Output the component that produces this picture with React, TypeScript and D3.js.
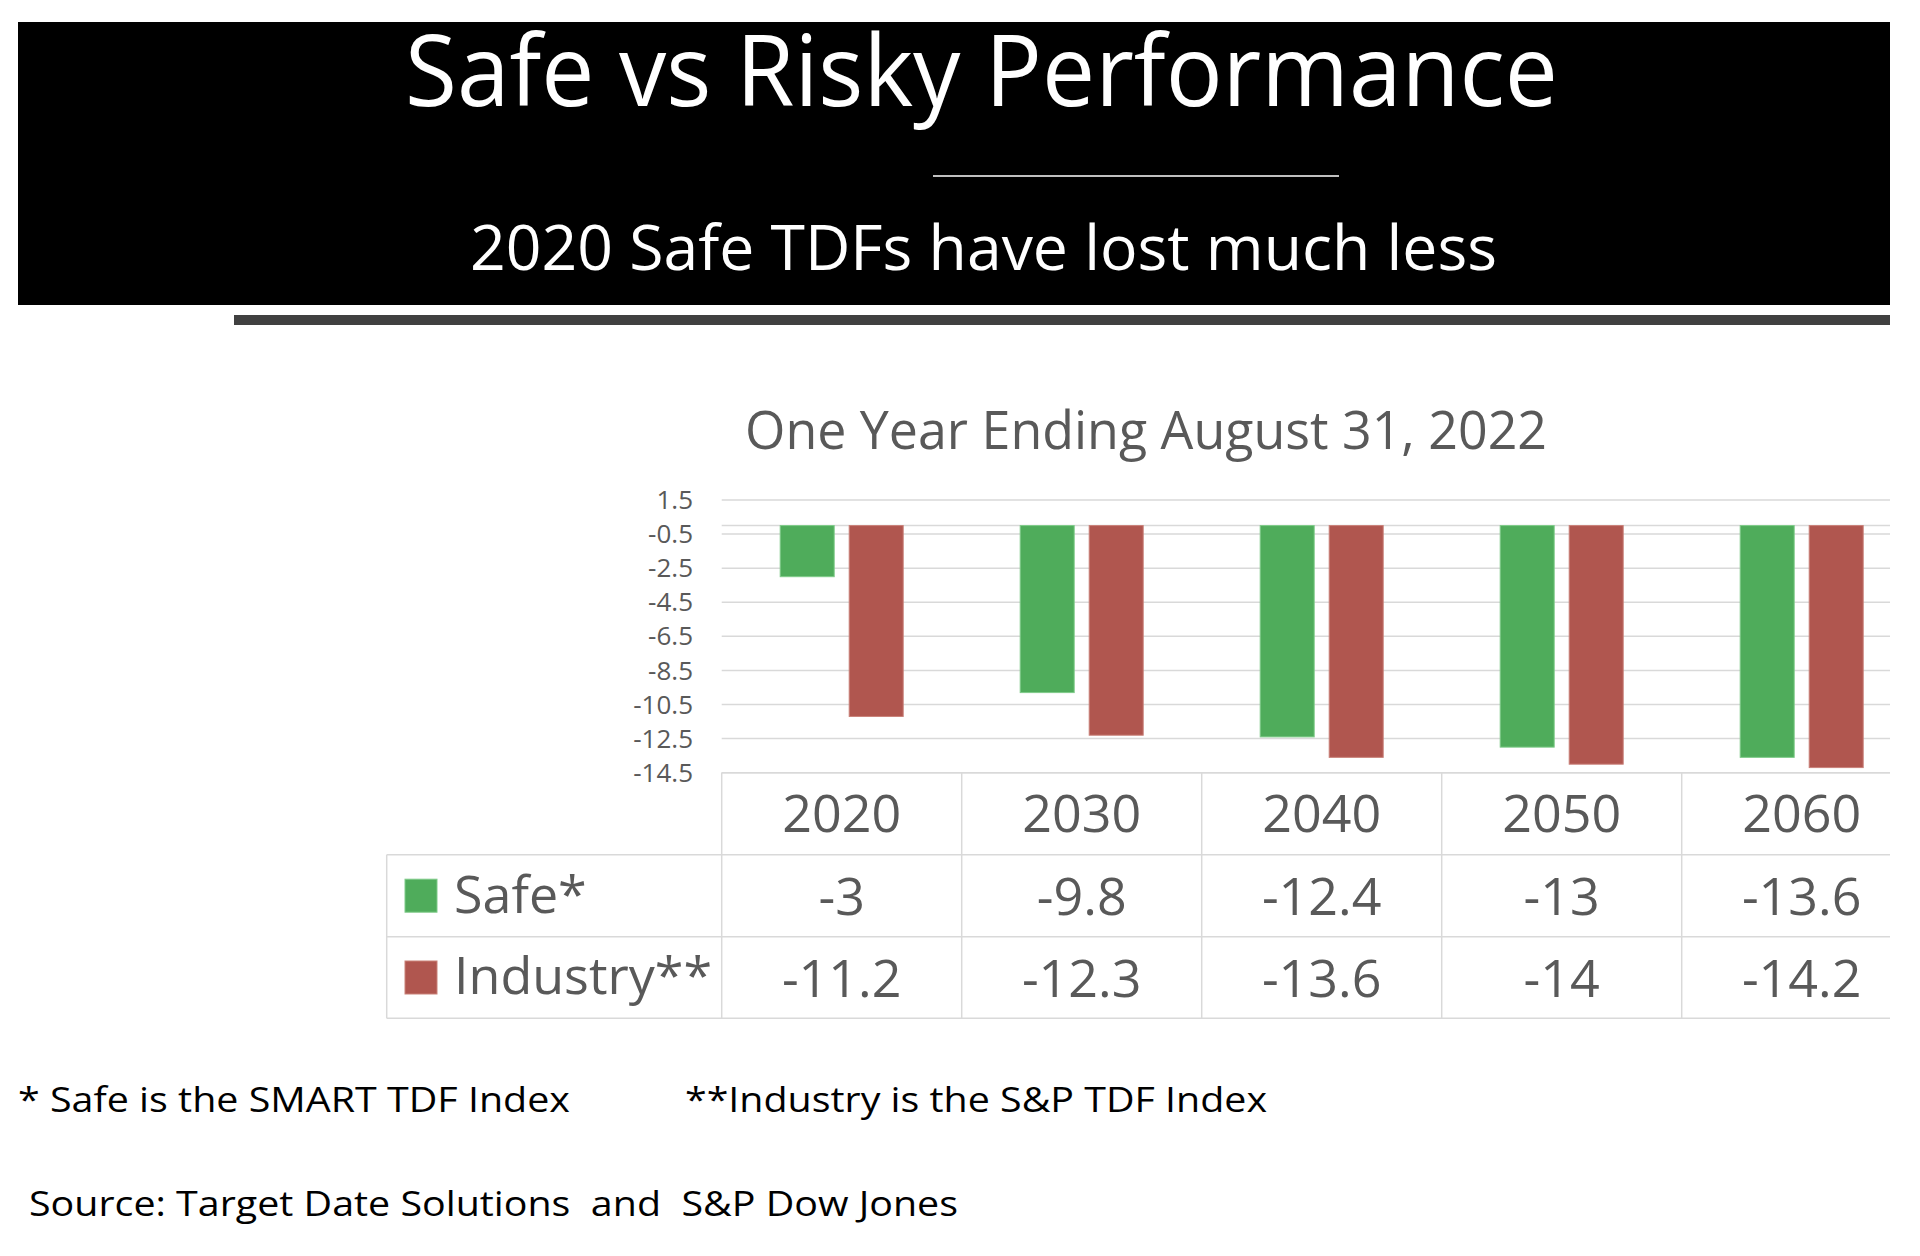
import React from "react";
import * as d3 from "d3";

const categories = ["2020", "2030", "2040", "2050", "2060"];
const seriesNames = ["Safe*", "Industry**"];
const safeValues = [-3, -9.8, -12.4, -13, -13.6];
const industryValues = [-11.2, -12.3, -13.6, -14, -14.2];
const yTicks = [1.5, -0.5, -2.5, -4.5, -6.5, -8.5, -10.5, -12.5, -14.5];
const seriesColors = ["#4FAC5B", "#B0564F"];
const seriesStrokes = ["#7FCB89", "#C98179"];

const titleText = "Safe vs Risky Performance";
const subtitleText = "2020 Safe TDFs have lost much less";
const chartTitle = "One Year Ending August 31, 2022";
const note1 = "* Safe is the SMART TDF Index";
const note2 = "**Industry is the S&P TDF Index";
const sourceText = "Source: Target Date Solutions  and  S&P Dow Jones";

const FONT = "'Open Sans', 'DejaVu Sans', sans-serif";

export default function App() {
  const W = 1920;
  const H = 1256;
  const plotLeft = 721.7;
  const catW = 240;
  const clipRight = 1890;
  const yTop = 500;
  const yBottom = 772.7;

  const x0 = d3
    .scaleBand<string>()
    .domain(categories)
    .range([plotLeft, plotLeft + catW * categories.length])
    .paddingInner(0)
    .paddingOuter(0);
  const x1 = d3
    .scaleBand<string>()
    .domain(seriesNames)
    .range([58.5, 181.5])
    .paddingInner(0.2174)
    .paddingOuter(0);
  const y = d3
    .scaleLinear()
    .domain([yTicks[yTicks.length - 1], yTicks[0]])
    .range([yBottom, yTop]);

  const seriesValues = [safeValues, industryValues];

  const rowHeader = [772.7, 854.7];
  const rowSafe = [854.7, 936.7];
  const rowInd = [936.7, 1018.3];
  const rows = [rowSafe, rowInd];
  const legendLeft = 386.7;
  const gridColor = "#D9D9D9";
  const textGray = "#595959";

  return (
    <svg
      width={W}
      height={H}
      viewBox={`0 0 ${W} ${H}`}
      style={{ position: "absolute", left: 0, top: 0, background: "#fff" }}
      fontFamily={FONT}
    >
      <defs>
        <clipPath id="plotClip">
          <rect x={0} y={0} width={clipRight} height={H} />
        </clipPath>
      </defs>
      <rect x={0} y={0} width={W} height={H} fill="#fff" />

      {/* header */}
      <rect x={18} y={22} width={1890 - 18} height={305 - 22} fill="#000" />
      <text
        x={405}
        y={106}
        fill="#fff"
        fontSize={99}
        textLength={1153}
        lengthAdjust="spacingAndGlyphs"
      >
        {titleText}
      </text>
      <line x1={933} x2={1339} y1={176} y2={176} stroke="#BFBFBF" strokeWidth={2} />
      <text
        x={470}
        y={270}
        fill="#fff"
        fontSize={62}
        textLength={1027}
        lengthAdjust="spacingAndGlyphs"
      >
        {subtitleText}
      </text>
      <rect x={234} y={315} width={1890 - 234} height={10} fill="#404040" />

      {/* chart title */}
      <text
        x={745}
        y={449}
        fill={textGray}
        fontSize={53}
        textLength={802}
        lengthAdjust="spacingAndGlyphs"
      >
        {chartTitle}
      </text>

      <g clipPath="url(#plotClip)">
        {/* gridlines */}
        {yTicks.map((t) => (
          <line
            key={"g" + t}
            x1={plotLeft}
            x2={clipRight}
            y1={y(t)}
            y2={y(t)}
            stroke={gridColor}
            strokeWidth={1.5}
          />
        ))}
        {/* zero axis line */}
        <line x1={plotLeft} x2={clipRight} y1={y(0)} y2={y(0)} stroke={gridColor} strokeWidth={1.5} />

        {/* bars */}
        {categories.map((c, i) => (
          <g key={c} transform={`translate(${x0(c)},0)`}>
            {seriesNames.map((s, si) => {
              const v = seriesValues[si][i];
              const y0 = y(0);
              const y1 = y(v);
              return (
                <rect
                  key={s}
                  x={x1(s)}
                  y={Math.min(y0, y1)}
                  width={x1.bandwidth()}
                  height={Math.abs(y1 - y0)}
                  fill={seriesColors[si]}
                  stroke={seriesStrokes[si]}
                  strokeWidth={1}
                />
              );
            })}
          </g>
        ))}

        {/* table horizontal lines */}
        <line x1={plotLeft} x2={clipRight} y1={rowHeader[0]} y2={rowHeader[0]} stroke={gridColor} strokeWidth={1.5} />
        {[rowSafe[0], rowInd[0], rowInd[1]].map((yy) => (
          <line key={"h" + yy} x1={legendLeft} x2={clipRight} y1={yy} y2={yy} stroke={gridColor} strokeWidth={1.5} />
        ))}
        {/* table vertical lines */}
        <line x1={legendLeft} x2={legendLeft} y1={rowSafe[0]} y2={rowInd[1]} stroke={gridColor} strokeWidth={1.5} />
        {categories.map((c) => (
          <line
            key={"v" + c}
            x1={x0(c)}
            x2={x0(c)}
            y1={rowHeader[0]}
            y2={rowInd[1]}
            stroke={gridColor}
            strokeWidth={1.5}
          />
        ))}

        {/* header labels */}
        {categories.map((c) => (
          <text
            key={"l" + c}
            x={(x0(c) as number) + x0.bandwidth() / 2}
            y={832}
            textAnchor="middle"
            fill={textGray}
            fontSize={52}
          >
            {c}
          </text>
        ))}
        {/* values */}
        {seriesNames.map((s, si) =>
          categories.map((c, i) => (
            <text
              key={s + c}
              x={(x0(c) as number) + x0.bandwidth() / 2}
              y={si === 0 ? 915 : 997}
              textAnchor="middle"
              fill={textGray}
              fontSize={52}
            >
              {String(seriesValues[si][i])}
            </text>
          ))
        )}
      </g>

      {/* legend in table */}
      {seriesNames.map((s, si) => {
        const r = rows[si];
        const mid = (r[0] + r[1]) / 2;
        return (
          <g key={"leg" + s}>
            <rect
              x={405}
              y={mid - 16.5}
              width={32}
              height={33}
              fill={seriesColors[si]}
              stroke={seriesStrokes[si]}
              strokeWidth={1}
            />
            <text x={454} y={si === 0 ? 913 : 994} fill={textGray} fontSize={52}>
              {s}
            </text>
          </g>
        );
      })}

      {/* y axis labels */}
      {yTicks.map((t) => (
        <text
          key={"t" + t}
          x={693}
          y={y(t)}
          dy="0.35em"
          textAnchor="end"
          fill={textGray}
          fontSize={26}
        >
          {String(t)}
        </text>
      ))}

      {/* footnotes */}
      <text x={18} y={1112} fill="#000" fontSize={35} textLength={552} lengthAdjust="spacingAndGlyphs">
        {note1}
      </text>
      <text x={685} y={1112} fill="#000" fontSize={35} textLength={582} lengthAdjust="spacingAndGlyphs">
        {note2}
      </text>
      <text
        x={29}
        y={1216}
        fill="#000"
        fontSize={35}
        textLength={929}
        lengthAdjust="spacingAndGlyphs"
        style={{ whiteSpace: "pre" }}
        xmlSpace="preserve"
      >
        {sourceText}
      </text>
    </svg>
  );
}
